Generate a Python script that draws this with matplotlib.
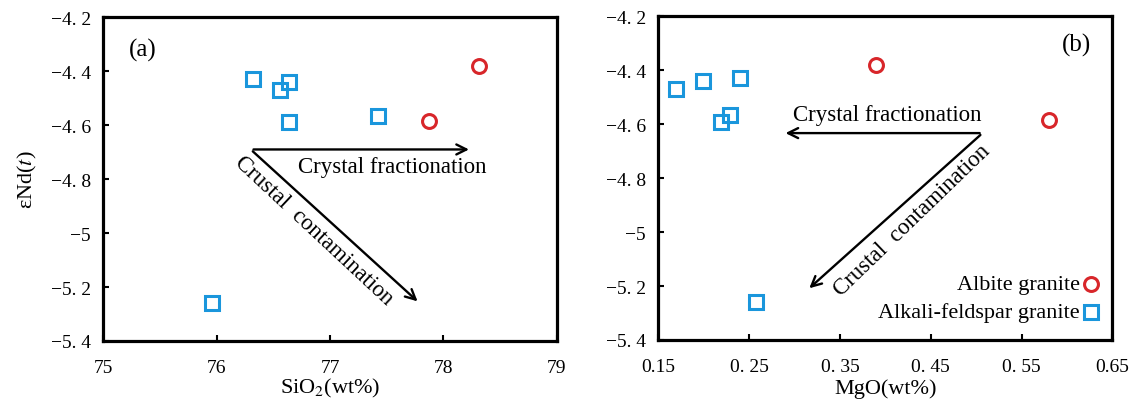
import matplotlib
matplotlib.use('Agg')
from matplotlib import pyplot as plt

# Nd isotope data for the two granite groups
end_albite = [-4.38, -4.585]
sio2_albite = [78.31, 77.87]
mgo_albite = [0.390, 0.580]

end_fsp = [-4.43, -4.47, -4.44, -4.59, -4.565, -5.26]
sio2_fsp = [76.32, 76.56, 76.64, 76.64, 77.42, 75.96]
mgo_fsp = [0.240, 0.169, 0.199, 0.219, 0.229, 0.258]

y_ticks = [-4.2, -4.4, -4.6, -4.8, -5.0, -5.2, -5.4]
y_labels = ['\u22124. 2', '\u22124. 4', '\u22124. 6', '\u22124. 8', '\u22125', '\u22125. 2', '\u22125. 4']
sio2_ticks = [75, 76, 77, 78, 79]
mgo_ticks = [0.15, 0.25, 0.35, 0.45, 0.55, 0.65]
mgo_labels = ['0.15', '0. 25', '0. 35', '0. 45', '0. 55', '0.65']

RED = '#d8262a'
BLUE = '#1a96dc'

plt.rcParams['font.family'] = ['Liberation Serif', 'DejaVu Serif']
plt.rcParams['mathtext.fontset'] = 'stix'

fig = plt.figure(figsize=(11.37, 4.10), dpi=100)
ax1 = fig.add_axes([0.0909, 0.1659, 0.3988, 0.7895])
ax2 = fig.add_axes([0.579, 0.1683, 0.3993, 0.7895])


def style_axes(ax):
    for spine in ax.spines.values():
        spine.set_linewidth(2.3)
    ax.tick_params(direction='in', length=4, width=1.5, labelsize=14)
    ax.tick_params(axis='y', pad=9)
    ax.tick_params(axis='x', pad=13)
    ax.set_ylim(-5.4, -4.2)
    ax.set_yticks(y_ticks)
    ax.set_yticklabels(y_labels)


arrow = dict(arrowstyle='->', lw=1.7, color='black', mutation_scale=18)
marker_kw = dict(markersize=10, markeredgewidth=2.2, markerfacecolor='none', linestyle='none')

# (a) SiO2
style_axes(ax1)
ax1.set_xlim(75, 79)
ax1.set_xticks(sio2_ticks)
ax1.plot(sio2_fsp, end_fsp, 's', markeredgecolor=BLUE, **marker_kw)
ax1.plot(sio2_albite, end_albite, 'o', markeredgecolor=RED, **marker_kw)
ax1.annotate('', xy=(78.25, -4.69), xytext=(76.3, -4.69), arrowprops=arrow)
ax1.annotate('', xy=(77.79, -5.26), xytext=(76.3, -4.69), arrowprops=arrow)
ax1.text(77.55, -4.755, 'Crystal fractionation', fontsize=16.5, ha='center', va='center')
ax1.text(76.86, -4.99, 'Crustal  contamination', fontsize=16.5, ha='center', va='center',
         rotation=-43, rotation_mode='anchor')
ax1.text(75.35, -4.32, '(a)', fontsize=18, ha='center', va='center')
ax1.set_xlabel('SiO$_2$(wt%)', fontsize=16, labelpad=0)
ax1.set_ylabel(r'εNd($\it{t}$)', fontsize=16, labelpad=8)

# (b) MgO
style_axes(ax2)
ax2.set_xlim(0.15, 0.65)
ax2.set_xticks(mgo_ticks)
ax2.set_xticklabels(mgo_labels)
ax2.plot(mgo_fsp, end_fsp, 's', markeredgecolor=BLUE, **marker_kw)
ax2.plot(mgo_albite, end_albite, 'o', markeredgecolor=RED, **marker_kw)
ax2.annotate('', xy=(0.287, -4.633), xytext=(0.507, -4.633), arrowprops=arrow)
ax2.annotate('', xy=(0.314, -5.215), xytext=(0.507, -4.633), arrowprops=arrow)
ax2.text(0.402, -4.565, 'Crystal fractionation', fontsize=16.5, ha='center', va='center')
ax2.text(0.429, -4.955, 'Crustal  contamination', fontsize=16.5, ha='center', va='center',
         rotation=44, rotation_mode='anchor')
ax2.text(0.611, -4.305, '(b)', fontsize=18, ha='center', va='center')
ax2.set_xlabel('MgO(wt%)', fontsize=16, labelpad=2)

# legend drawn as text next to its markers
ax2.plot([0.627], [-5.193], 'o', markeredgecolor=RED, **marker_kw)
ax2.plot([0.627], [-5.297], 's', markeredgecolor=BLUE, **marker_kw)
ax2.text(0.614, -5.193, 'Albite granite', fontsize=16, ha='right', va='center')
ax2.text(0.614, -5.297, 'Alkali-feldspar granite', fontsize=16, ha='right', va='center')

fig.savefig('out.png', dpi=100)
